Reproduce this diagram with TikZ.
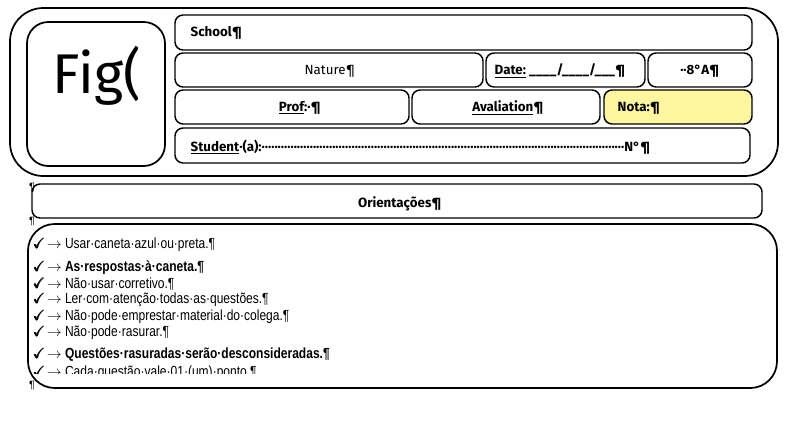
\documentclass[tikz,border=0pt]{standalone}
\usepackage{amsmath}
\usepackage{amssymb}
\usepackage{fontspec}
\setmainfont{Liberation Sans}
\newfontfamily\headfont{Fira Sans}
\newfontfamily\listfont{Liberation Sans}[FakeStretch=0.82]
\definecolor{notafill}{HTML}{FFF7A0}

\tikzset{
  box/.style={draw, line width=1.1pt, rounded corners=6pt},
  big box/.style={draw, line width=1.3pt, rounded corners=20pt},
  head/.style={font=\headfont\fontsize{10}{12}\selectfont},
  item/.style={anchor=west, inner sep=0pt, font=\listfont\fontsize{11}{13}\selectfont},
}
\newcommand{\tick}{$\pmb{\checkmark}\!\rightarrow$}

\begin{document}
\begin{tikzpicture}[x=0.75pt, y=-0.75pt]
  \useasboundingbox (0,0) rectangle (800,425);
  % header frame
  \draw[big box, rounded corners=25pt] (10,8) rectangle (778,176);
  \draw[big box, rounded corners=16pt] (27,22) rectangle (165,166);
  \begin{scope}
    \clip (30,25) rectangle (137,160);
    \node[anchor=west, font=\headfont\fontsize{42}{46}\selectfont] (fig) at (48,76) {Fig(};
  \end{scope}
  \draw[box] (175,15) rectangle (752,50);
  \node[head, anchor=west] (school) at (186,33) {\bfseries School¶};
  \draw[box] (175,53) rectangle (483,87);
  \node[head] (nature) at (330,71) {Nature¶};
  \draw[box] (486,53) rectangle (645,87);
  \node[head, anchor=west] (date) at (490,71) {\bfseries\underline{Date:}\ \_\_\_\_/\_\_\_\_/\_\_\_¶};
  \draw[box] (648,53) rectangle (752,87);
  \node[head] (class) at (700,71) {\bfseries ··8°A¶};
  \draw[box] (175,90) rectangle (409,124);
  \node[head] (prof) at (300,108) {\bfseries\underline{Prof}:·¶};
  \draw[box] (412,90) rectangle (600,124);
  \node[head] (aval) at (508,108) {\bfseries\underline{Avaliation}¶};
  \draw[box, fill=notafill] (604,90) rectangle (752,124);
  \node[head, anchor=west] (nota) at (613,108) {\bfseries Nota:¶};
  \draw[box] (175,128) rectangle (750,163);
  \node[head, anchor=west] (student) at (186,147) {\bfseries\underline{Student}·(a):\hbox to 272pt{\xleaders\hbox{·}\hfill}N°¶};
  % guidelines
  \draw[box] (32,184) rectangle (762,218);
  \node[head] (orient) at (400,204) {\bfseries Orientações¶};
  \draw[big box] (28,224) rectangle (777,388);
  \begin{scope}
    \clip (30,226) rectangle (775,373);
    \node[item] (i1) at (33,245) {\tick\ Usar·caneta·azul·ou·preta.¶};
    \node[item] (i2) at (33,268) {\tick\ \bfseries As·respostas·à·caneta.¶};
    \node[item] (i3) at (33,284) {\tick\ Não·usar·corretivo.¶};
    \node[item] (i4) at (33,300) {\tick\ Ler·com·atenção·todas·as·questões.¶};
    \node[item] (i5) at (33,317) {\tick\ Não·pode·emprestar·material·do·colega.¶};
    \node[item] (i6) at (33,333) {\tick\ Não·pode·rasurar.¶};
    \node[item] (i7) at (33,355) {\tick\ \bfseries Questões·rasuradas·serão·desconsideradas.¶};
    \node[item] (i8) at (33,373) {\tick\ Cada·questão·vale·01·(um)·ponto.¶};
  \end{scope}
  % stray paragraph marks
  \node[font=\fontsize{8}{8}\selectfont, inner sep=0pt] (p1) at (32,188) {¶};
  \node[font=\fontsize{8}{8}\selectfont, inner sep=0pt] (p2) at (32,222) {¶};
  \node[font=\fontsize{8}{8}\selectfont, inner sep=0pt] (p3) at (32,386) {¶};
\end{tikzpicture}
\end{document}
